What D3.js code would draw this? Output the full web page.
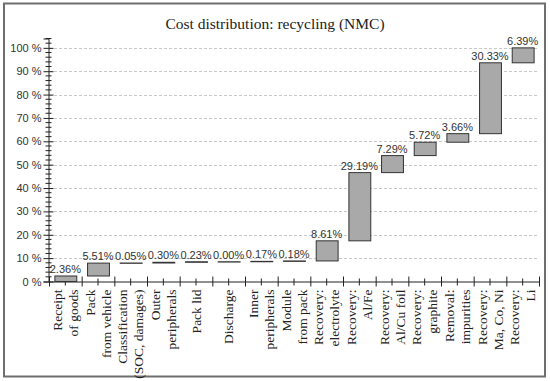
<!DOCTYPE html>
<html>
<head>
<meta charset="utf-8">
<script src="https://cdn.jsdelivr.net/npm/d3@7"></script>
<style>
  body { margin: 0; background: #fff; }
  svg { display: block; }
</style>
</head>
<body>
<script>
// chart data
var categories = ["Receipt of goods", "Pack from vehicle", "Classification (SOC, damages)",
  "Outer peripherals", "Pack lid", "Discharge", "Inner peripherals", "Module from pack",
  "Recovery: electrolyte", "Recovery: Al/Fe", "Recovery: Al/Cu foil", "Recovery: graphite",
  "Removal: impurities", "Recovery: Ma, Co, Ni", "Recovery: Li"];
var labelLines = [["Receipt", "of goods"], ["Pack", "from vehicle"], ["Classification", "(SOC, damages)"],
  ["Outer", "peripherals"], ["Pack lid"], ["Discharge"], ["Inner", "peripherals"], ["Module", "from pack"],
  ["Recovery:", "electrolyte"], ["Recovery:", "Al/Fe"], ["Recovery:", "Al/Cu foil"], ["Recovery:", "graphite"],
  ["Removal:", "impurities"], ["Recovery:", "Ma, Co, Ni"], ["Recovery:", "Li"]];
var shares = [2.36, 5.51, 0.05, 0.30, 0.23, 0.00, 0.17, 0.18, 8.61, 29.19, 7.29, 5.72, 3.66, 30.33, 6.39];
var yTicks = [0, 10, 20, 30, 40, 50, 60, 70, 80, 90, 100];
var title = "Cost distribution: recycling (NMC)";

var svgWidth = 550, svgHeight = 381;
var plotLeft = 49, plotRight = 539, plotBottom = 281.5, plotTop = 38.5;

var svg = d3.select("body").append("svg")
  .attr("width", svgWidth)
  .attr("height", svgHeight);

// outer frame
svg.append("rect")
  .attr("x", 4).attr("y", 3.5)
  .attr("width", 541).attr("height", 373)
  .attr("fill", "none").attr("stroke", "#6e6e6e").attr("stroke-width", 2);

svg.append("text")
  .attr("x", 275).attr("y", 29)
  .attr("text-anchor", "middle")
  .attr("font-family", "Liberation Serif, serif")
  .attr("font-size", 15.5)
  .attr("fill", "#222")
  .text(title);

// waterfall start/end
var steps = [];
var run = 0;
shares.forEach(function(v, i) {
  steps.push({ cat: categories[i], v: v, y0: run, y1: run + v });
  run += v;
});

var x = d3.scaleBand().domain(categories).range([plotLeft, plotRight])
  .paddingInner(0.33).paddingOuter(0.165);
var xIdx = d3.scaleLinear().domain([0, categories.length]).range([plotLeft, plotRight]);
var y = d3.scaleLinear().domain([0, 104]).range([plotBottom, plotTop]);

// grid lines
svg.append("g").selectAll("line")
  .data(yTicks.filter(d => d > 0))
  .enter().append("line")
  .attr("x1", plotLeft).attr("x2", plotRight)
  .attr("y1", d => Math.round(y(d)) + 0.5).attr("y2", d => Math.round(y(d)) + 0.5)
  .attr("stroke", "#c8c8c8").attr("stroke-dasharray", "3,2");

// y axis
var yAxis = svg.append("g")
  .attr("transform", "translate(" + (plotLeft - 0.5) + ",0)")
  .call(d3.axisLeft(y).tickValues(yTicks).tickSize(5).tickFormat(d => d + " %"));
yAxis.select(".domain").attr("stroke", "#222");
yAxis.selectAll(".tick line").attr("x1", 5).attr("stroke", "#222");
yAxis.selectAll(".tick text")
  .attr("x", -7)
  .attr("font-family", "Liberation Sans, Arial, sans-serif")
  .attr("font-size", 11).attr("fill", "#333");

svg.append("g").selectAll("line")
  .data(d3.range(0, 105, 2).filter(d => d % 10 !== 0))
  .enter().append("line")
  .attr("x1", plotLeft - 3.5).attr("x2", plotLeft + 2.5)
  .attr("y1", d => y(d)).attr("y2", d => y(d))
  .attr("stroke", "#222");

// x axis
var xAxis = svg.append("g")
  .attr("transform", "translate(0," + plotBottom + ")")
  .call(d3.axisBottom(xIdx).tickValues(d3.range(0, categories.length + 1)).tickSize(5).tickFormat(""));
xAxis.select(".domain").attr("stroke", "#222").attr("d", "M" + plotLeft + ",0.5H" + plotRight);
xAxis.selectAll(".tick line").attr("y1", -5).attr("stroke", "#222");

svg.append("g").selectAll("line")
  .data(d3.range(0, categories.length).map(d => d + 0.5))
  .enter().append("line")
  .attr("x1", d => xIdx(d)).attr("x2", d => xIdx(d))
  .attr("y1", plotBottom - 3).attr("y2", plotBottom + 4)
  .attr("stroke", "#222");

// bars
svg.append("g").selectAll("rect")
  .data(steps)
  .enter().append("rect")
  .attr("x", d => x(d.cat) + 0.5)
  .attr("y", d => y(d.y1))
  .attr("width", x.bandwidth())
  .attr("height", d => Math.max(0.3, y(d.y0) - y(d.y1)))
  .attr("fill", "#a9a9a9")
  .attr("stroke", "#333").attr("stroke-width", 1);

// value labels
svg.append("g").selectAll("text")
  .data(steps)
  .enter().append("text")
  .attr("x", d => x(d.cat) + x.bandwidth() / 2)
  .attr("y", d => y(d.y1) - 3)
  .attr("text-anchor", "middle")
  .attr("font-family", "Liberation Sans, Arial, sans-serif")
  .attr("font-size", 11)
  .attr("fill", "#333")
  .text(d => d.v.toFixed(2) + "%");

// category labels, rotated
var labels = svg.append("g").selectAll("text")
  .data(categories)
  .enter().append("text")
  .attr("transform", d => "translate(" + (x(d) + x.bandwidth() / 2) + "," + (plotBottom + 8) + ") rotate(-90)")
  .attr("text-anchor", "end")
  .attr("font-family", "Liberation Serif, serif")
  .attr("font-size", 13.5)
  .attr("fill", "#222");

labels.each(function(d, i) {
  var lines = labelLines[i];
  var t = d3.select(this);
  lines.forEach(function(line, j) {
    var off = lines.length === 1 ? 4.5 : (j === 0 ? -3.5 : 12.5);
    t.append("tspan").attr("x", 0).attr("y", off).text(line);
  });
});
</script>
</body>
</html>
